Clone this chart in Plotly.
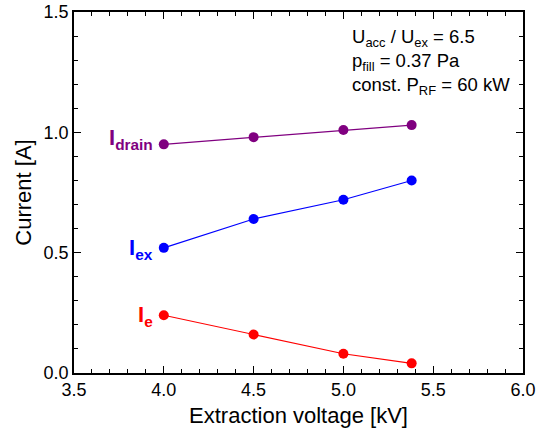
import plotly.graph_objects as go

voltage = [4.0, 4.5, 5.0, 5.38]
i_drain = [0.95, 0.98, 1.01, 1.03]
i_ex = [0.52, 0.64, 0.72, 0.80]
i_e = [0.24, 0.16, 0.08, 0.04]

series = [
    ("drain", i_drain, "#800080", 5),
    ("ex", i_ex, "#0000FF", -1),
    ("e", i_e, "#FF0000", -1),
]

FONT = "Liberation Sans, Arial"

fig = go.Figure()
for name, vals, col, ys in series:
    fig.add_trace(go.Scatter(
        x=voltage, y=vals, mode="lines+markers",
        line=dict(color=col, width=1.2),
        marker=dict(color=col, size=10),
        showlegend=False,
    ))
    fig.add_annotation(
        x=voltage[0], y=vals[0], xref="x", yref="y",
        text=f"<b>I<sub>{name}</sub></b>", showarrow=False,
        xanchor="right", xshift=-9, yshift=ys,
        font=dict(color=col, size=22, family=FONT),
    )

fig.add_annotation(
    x=0.615, y=0.968, xref="paper", yref="paper", xanchor="left", yanchor="top",
    align="left", showarrow=False,
    text="U<sub>acc</sub> / U<sub>ex</sub> = 6.5<br>p<sub>fill</sub> = 0.37 Pa<br>const. P<sub>RF</sub> = 60 kW",
    font=dict(size=18.5, color="black", family=FONT),
)

axis_common = dict(
    showline=True, linecolor="black", linewidth=1.5, mirror="ticks",
    ticks="inside", ticklen=7, tickwidth=1.2, tickcolor="black",
    showgrid=False, zeroline=False, automargin=False,
    tickfont=dict(size=18, color="black", family=FONT),
)
fig.update_xaxes(
    range=[3.5, 6.0], dtick=0.5, tickformat=".1f",
    minor=dict(ticks="inside", ticklen=4, dtick=0.1, tickcolor="black"),
    title=dict(text="Extraction voltage [kV]", font=dict(size=22, color="black", family=FONT), standoff=8),
    **axis_common,
)
fig.update_yaxes(
    range=[0, 1.5], dtick=0.5, tickformat=".1f",
    minor=dict(ticks="inside", ticklen=4, dtick=0.1, tickcolor="black"),
    title=dict(text="Current [A]", font=dict(size=22, color="black", family=FONT), standoff=6),
    **axis_common,
)
fig.update_layout(
    width=548, height=444,
    margin=dict(l=74, r=25, t=12, b=71),
    plot_bgcolor="white", paper_bgcolor="white",
    font=dict(family=FONT, color="black"),
)
fig.write_html("out.html", config={"displayModeBar": False},
               post_script="document.body.style.margin='0';")
